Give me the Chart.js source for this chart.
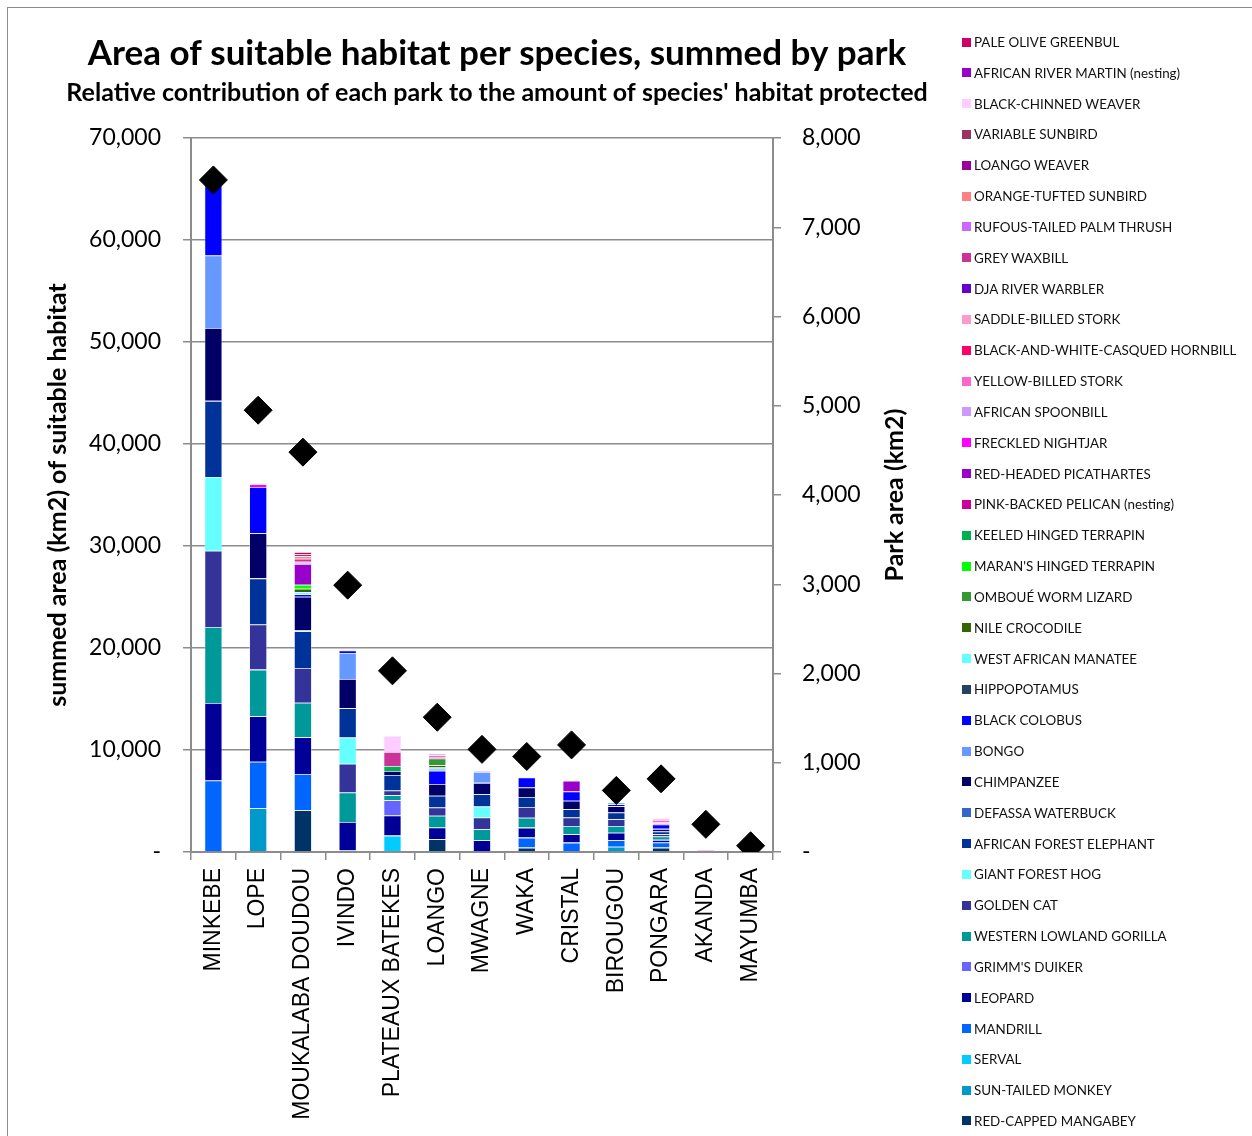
<!DOCTYPE html>
<html>
<head>
<meta charset="utf-8">
<script src="https://cdn.jsdelivr.net/npm/chart.js@4"></script>
<style>
  body { margin: 0; background: #fff; }
  #wrap { position: relative; width: 1252px; height: 1136px; overflow: hidden; }
  #frame { position: absolute; left: 7px; top: 7px; width: 1300px; height: 1200px;
           border-left: 1px solid #8c8c8c; border-top: 1px solid #8c8c8c; }
  #chart { position: absolute; left: 0; top: 0; }
  #legend { position: absolute; left: 962px; top: 26.6px; font-family: Lato, sans-serif;
            font-size: 13.4px; color: #111; }
  .item { height: 30.83px; display: flex; align-items: center; white-space: nowrap; }
  .sw { width: 9px; height: 9px; margin-right: 3px; flex: none; }
</style>
</head>
<body>
<div id="wrap">
  <div id="frame"></div>
  <canvas id="chart" width="994" height="1136"></canvas>
  <div id="legend"></div>
</div>
<script>
const parks = ['MINKEBE', 'LOPE', 'MOUKALABA DOUDOU', 'IVINDO', 'PLATEAUX BATEKES', 'LOANGO',
  'MWAGNE', 'WAKA', 'CRISTAL', 'BIROUGOU', 'PONGARA', 'AKANDA', 'MAYUMBA'];

// park area, right axis
const parkArea = [7530, 4950, 4480, 2990, 2030, 1510, 1150, 1070, 1200, 690, 820, 310, 70];

// suitable habitat (km2) per species, bottom of the stack first
const redCappedMangabey = [0, 0, 4100, 0, 0, 1250, 0, 430, 0, 0, 430, 0, 0];
const sunTailedMonkey   = [0, 4300, 0, 0, 0, 0, 0, 0, 0, 525, 0, 0, 0];
const serval            = [0, 0, 0, 0, 1610, 0, 0, 0, 0, 0, 0, 0, 0];
const mandrill          = [7020, 4560, 3540, 160, 0, 0, 0, 980, 920, 620, 500, 0, 0];
const leopard           = [7590, 4460, 3610, 2790, 1970, 1150, 1150, 980, 820, 750, 260, 0, 0];
const grimmsDuiker      = [0, 0, 0, 0, 1510, 0, 0, 0, 0, 0, 0, 0, 0];
const gorilla           = [7460, 4560, 3380, 2890, 490, 1150, 1080, 980, 820, 660, 330, 0, 0];
const goldenCat         = [7460, 4430, 3410, 2820, 460, 820, 1150, 1050, 820, 660, 230, 0, 0];
const giantForestHog    = [7240, 0, 0, 2560, 0, 0, 1080, 0, 0, 0, 0, 0, 0];
const forestElephant    = [7460, 4520, 3600, 2890, 1510, 1150, 1210, 980, 820, 660, 260, 0, 0];
const defassaWaterbuck  = [0, 0, 100, 0, 0, 0, 0, 0, 0, 0, 0, 0, 0];
const chimpanzee        = [7150, 4430, 3280, 2850, 390, 1150, 1110, 920, 820, 620, 260, 0, 0];
const bongo             = [7100, 0, 0, 2560, 0, 0, 1080, 0, 0, 0, 0, 0, 0];
const blackColobus      = [7300, 4520, 260, 250, 0, 1310, 0, 980, 920, 200, 420, 0, 0];
const hippopotamus      = [0, 0, 0, 0, 0, 150, 0, 0, 0, 0, 0, 0, 0];
const manatee           = [0, 0, 200, 0, 0, 160, 0, 60, 0, 0, 0, 0, 0];
const nileCrocodile     = [0, 0, 330, 0, 0, 230, 0, 0, 0, 0, 0, 0, 0];
const omboueWormLizard  = [0, 0, 0, 0, 0, 650, 0, 0, 0, 0, 0, 0, 0];
const maransTerrapin    = [0, 0, 390, 0, 0, 0, 0, 0, 0, 0, 0, 0, 0];
const keeledTerrapin    = [0, 0, 0, 0, 490, 0, 0, 0, 0, 130, 0, 0, 0];
const pinkBackedPelican = [0, 0, 0, 0, 0, 130, 0, 0, 0, 0, 100, 0, 0];
const picathartes       = [0, 0, 2050, 0, 0, 0, 0, 0, 1050, 0, 0, 0, 0];
const freckledNightjar  = [0, 280, 0, 0, 0, 0, 0, 0, 0, 0, 0, 0, 0];
const africanSpoonbill  = [0, 0, 200, 0, 0, 0, 100, 0, 0, 0, 160, 120, 0];
const yellowBilledStork = [0, 60, 0, 0, 0, 200, 0, 0, 0, 0, 200, 80, 0];
const bwHornbill        = [0, 0, 0, 80, 0, 0, 0, 0, 0, 0, 0, 0, 0];
const saddleBilledStork = [0, 0, 0, 0, 0, 160, 0, 0, 0, 0, 160, 0, 0];
const djaRiverWarbler   = [0, 0, 0, 0, 0, 0, 0, 0, 0, 0, 0, 0, 0];
const greyWaxbill       = [0, 0, 300, 0, 1380, 0, 0, 0, 0, 0, 0, 0, 0];
const palmThrush        = [0, 0, 0, 0, 0, 0, 0, 0, 0, 0, 0, 0, 0];
const orangeTuftedSunbird = [0, 0, 260, 0, 0, 0, 0, 0, 0, 0, 0, 0, 0];
const loangoWeaver      = [0, 0, 0, 0, 0, 0, 0, 0, 0, 0, 0, 0, 0];
const variableSunbird   = [0, 0, 200, 0, 0, 0, 0, 0, 0, 0, 0, 0, 0];
const blackChinnedWeaver = [0, 0, 0, 0, 1570, 0, 0, 0, 0, 0, 0, 0, 0];
const riverMartin       = [0, 0, 0, 0, 0, 0, 0, 0, 0, 0, 0, 0, 0];
const paleOliveGreenbul = [0, 0, 200, 0, 0, 0, 0, 0, 0, 0, 0, 0, 0];

const species = [
  ['RED-CAPPED MANGABEY', redCappedMangabey, '#003366'],
  ['SUN-TAILED MONKEY', sunTailedMonkey, '#0099CC'],
  ['SERVAL', serval, '#00CCFF'],
  ['MANDRILL', mandrill, '#0066FF'],
  ['LEOPARD', leopard, '#000099'],
  ["GRIMM'S DUIKER", grimmsDuiker, '#6666FF'],
  ['WESTERN LOWLAND GORILLA', gorilla, '#009999'],
  ['GOLDEN CAT', goldenCat, '#333399'],
  ['GIANT FOREST HOG', giantForestHog, '#66FFFF'],
  ['AFRICAN FOREST ELEPHANT', forestElephant, '#003399'],
  ['DEFASSA WATERBUCK', defassaWaterbuck, '#3366CC'],
  ['CHIMPANZEE', chimpanzee, '#000066'],
  ['BONGO', bongo, '#6699FF'],
  ['BLACK COLOBUS', blackColobus, '#0000FF'],
  ['HIPPOPOTAMUS', hippopotamus, '#244062'],
  ['WEST AFRICAN MANATEE', manatee, '#66FFFF'],
  ['NILE CROCODILE', nileCrocodile, '#336600'],
  ['OMBOUÉ WORM LIZARD', omboueWormLizard, '#339933'],
  ["MARAN'S HINGED TERRAPIN", maransTerrapin, '#00FF00'],
  ['KEELED HINGED TERRAPIN', keeledTerrapin, '#00B050'],
  ['PINK-BACKED PELICAN (nesting)', pinkBackedPelican, '#CC0099'],
  ['RED-HEADED PICATHARTES', picathartes, '#9900CC'],
  ['FRECKLED NIGHTJAR', freckledNightjar, '#FF00FF'],
  ['AFRICAN SPOONBILL', africanSpoonbill, '#CC99FF'],
  ['YELLOW-BILLED STORK', yellowBilledStork, '#FF66CC'],
  ['BLACK-AND-WHITE-CASQUED HORNBILL', bwHornbill, '#FF0066'],
  ['SADDLE-BILLED STORK', saddleBilledStork, '#FF99CC'],
  ['DJA RIVER WARBLER', djaRiverWarbler, '#6600CC'],
  ['GREY WAXBILL', greyWaxbill, '#CC3399'],
  ['RUFOUS-TAILED PALM THRUSH', palmThrush, '#CC66FF'],
  ['ORANGE-TUFTED SUNBIRD', orangeTuftedSunbird, '#FF8080'],
  ['LOANGO WEAVER', loangoWeaver, '#990099'],
  ['VARIABLE SUNBIRD', variableSunbird, '#993366'],
  ['BLACK-CHINNED WEAVER', blackChinnedWeaver, '#FFCCFF'],
  ['AFRICAN RIVER MARTIN (nesting)', riverMartin, '#9900CC'],
  ['PALE OLIVE GREENBUL', paleOliveGreenbul, '#CC0066']
];

const calibri = 'Lato, "Open Sans", sans-serif';
const gridCol = '#8c8c8c';

// legend, top of stack first
const legend = document.getElementById('legend');
species.slice().reverse().forEach(s => {
  const d = document.createElement('div');
  d.className = 'item';
  d.innerHTML = '<span class="sw" style="background:' + s[2] + '"></span>' + s[0];
  legend.appendChild(d);
});

const datasets = [{
  type: 'line',
  label: 'Park area (km2)',
  data: parkArea,
  yAxisID: 'y1',
  showLine: false,
  pointStyle: 'rectRot',
  pointRadius: 14,
  backgroundColor: '#000',
  borderColor: '#000',
  order: 0
}];
species.forEach(s => {
  datasets.push({
    label: s[0],
    data: s[1],
    backgroundColor: s[2],
    borderColor: 'rgba(230,230,255,0.55)',
    borderWidth: 0.8,
    yAxisID: 'y',
    stack: 'habitat',
    categoryPercentage: 1,
    barPercentage: 0.4,
    order: 1
  });
});

const rightTitle = {
  id: 'rightTitle',
  afterDraw(chart) {
    const ctx = chart.ctx;
    ctx.save();
    ctx.translate(895, (chart.chartArea.top + chart.chartArea.bottom) / 2);
    ctx.rotate(-Math.PI / 2);
    ctx.font = 'bold 25px ' + calibri;
    ctx.fillStyle = '#000';
    ctx.textAlign = 'center';
    ctx.textBaseline = 'middle';
    ctx.fillText('Park area (km2)', 0, 0);
    ctx.restore();
  }
};

const fmt = v => v === 0 ? '-' : v.toLocaleString('en-US');

new Chart(document.getElementById('chart'), {
  type: 'bar',
  data: { labels: parks, datasets: datasets },
  options: {
    responsive: false,
    animation: false,
    layout: { padding: 0 },
    plugins: {
      legend: { display: false },
      tooltip: { enabled: false },
      title: {
        display: true,
        text: 'Area of suitable habitat per species, summed by park',
        color: '#000',
        font: { family: calibri, size: 35, weight: 'bold', lineHeight: 1.2 },
        padding: { top: 33, bottom: 3 }
      },
      subtitle: {
        display: true,
        text: "Relative contribution of each park to the amount of species' habitat protected",
        color: '#000',
        font: { family: calibri, size: 25, weight: 'bold', lineHeight: 1.2 },
        padding: { top: 0, bottom: 30 }
      }
    },
    scales: {
      x: {
        stacked: true,
        afterFit: s => { s.height = 284; },
        grid: { drawOnChartArea: false, drawTicks: true, tickLength: 8, color: gridCol, lineWidth: 1.5 },
        border: { color: gridCol, width: 2 },
        ticks: {
          color: '#000', maxRotation: 90, minRotation: 90, padding: 8, autoSkip: false,
          font: { family: '"Liberation Sans", Arial, sans-serif', size: 23 }
        }
      },
      y: {
        stacked: true,
        position: 'left',
        min: 0, max: 70000,
        afterFit: s => { s.width = 191; },
        grid: { color: gridCol, lineWidth: 1.5, tickLength: 8 },
        border: { color: gridCol, width: 2 },
        ticks: {
          stepSize: 10000, color: '#000', padding: 22, callback: fmt,
          font: { family: calibri, size: 23 }
        },
        title: {
          display: true,
          text: 'summed area (km2) of suitable habitat',
          color: '#000',
          font: { family: calibri, size: 25, weight: 'bold', lineHeight: 1.2 },
          padding: { top: 43, bottom: 0 }
        }
      },
      y1: {
        position: 'right',
        min: 0, max: 8000,
        afterFit: s => { s.width = 221; },
        grid: { drawOnChartArea: false, color: gridCol, lineWidth: 1.5, tickLength: 8 },
        border: { color: gridCol, width: 2 },
        ticks: {
          stepSize: 1000, color: '#000', padding: 21, callback: fmt,
          font: { family: calibri, size: 23 }
        }
      }
    }
  },
  plugins: [rightTitle]
});
</script>
</body>
</html>
